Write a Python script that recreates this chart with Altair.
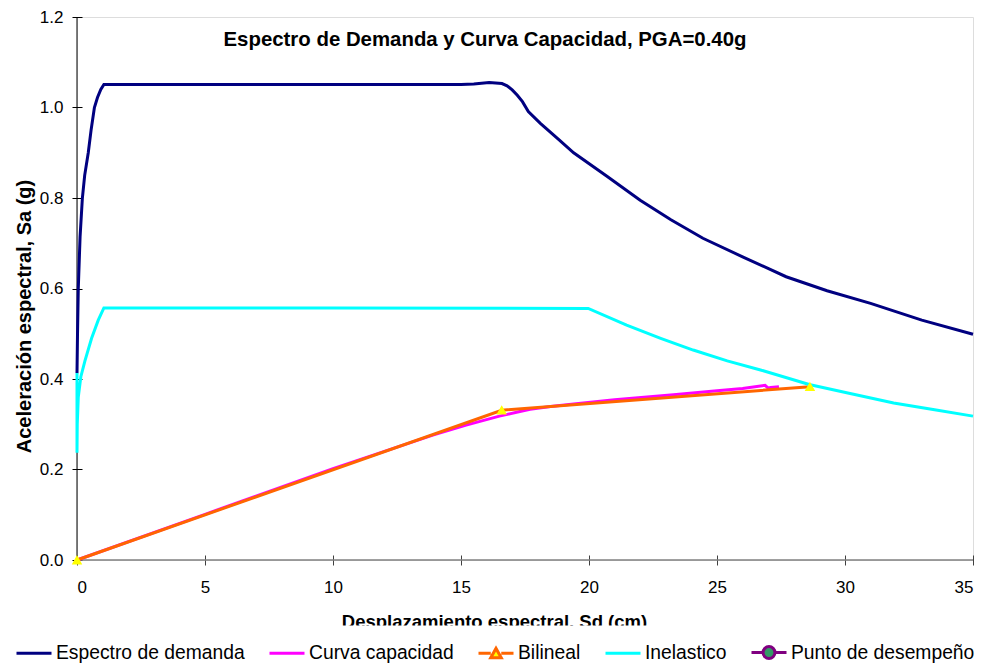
import altair as alt
import pandas as pd

# ---------------- data ----------------
series = ["Espectro de demanda", "Curva capacidad", "Bilineal", "Inelastico", "Punto de desempeño"]
line_colors = ["#000080", "#FF00FF", "#FF6600", "#00FFFF", "#800080"]
line_widths = [3, 3, 1.3, 3, 1.3]
marker_fills = ["transparent", "transparent", "#FFFF00", "transparent", "#339966"]
# legend symbols: line only / line + triangle / line + circle (unit square paths)
LINE = "M-1,0H1"
LINE_TRI = "M-1,0H-0.3M0.3,0H1M-0.3,0.25L0,-0.28L0.3,0.25Z"
LINE_CIRC = "M-1,0H-0.34M0.34,0H1M0.34,0A0.34,0.34,0,1,1,-0.34,0A0.34,0.34,0,1,1,0.34,0Z"
marker_shapes = [LINE, LINE, LINE_TRI, LINE, LINE_CIRC]

demanda_sd = [0.0, 0.02, 0.05, 0.12, 0.21, 0.30, 0.44, 0.55, 0.68, 0.80, 0.93, 1.05,
              5.0, 10.0, 15.0, 15.5, 16.1, 16.6, 16.8, 17.0, 17.2, 17.4, 17.63,
              18.1, 18.8, 19.4, 20.7, 22.0, 23.2, 24.45, 26.0, 27.7, 29.3, 31.0,
              33.0, 35.0]
demanda_sa = [0.413, 0.50, 0.60, 0.714, 0.80, 0.85, 0.90, 0.95, 1.00, 1.022, 1.04, 1.051,
              1.051, 1.051, 1.051, 1.052, 1.055, 1.053, 1.048, 1.039, 1.027, 1.013, 0.991,
              0.965, 0.93, 0.90, 0.848, 0.795, 0.752, 0.711, 0.67, 0.626, 0.595, 0.567,
              0.53, 0.499]

capacidad_sd = [0.0, 5.0, 10.0, 13.9, 15.2, 16.5, 17.3, 17.7, 18.5, 19.4, 21.0,
                23.3, 25.0, 26.0, 26.88, 27.0, 27.1, 27.42]
capacidad_sa = [0.0, 0.101, 0.202, 0.276, 0.298, 0.318, 0.328, 0.333, 0.339, 0.345, 0.354,
                0.365, 0.374, 0.379, 0.386, 0.380, 0.381, 0.383]

bilineal_sd = [0.0, 16.59, 28.63]
bilineal_sa = [0.0, 0.331, 0.383]

inelastico_sd = [0.0, 0.0, 0.01, 0.05, 0.15, 0.31, 0.57, 0.83, 1.05, 10.0, 19.97,
                 21.47, 22.8, 24.07, 25.4, 26.7, 28.6, 30.2, 31.9, 33.5, 35.0]
inelastico_sa = [0.413, 0.237, 0.30, 0.36, 0.405, 0.44, 0.49, 0.53, 0.557, 0.557, 0.556,
                 0.519, 0.49, 0.464, 0.44, 0.42, 0.388, 0.368, 0.347, 0.332, 0.318]

x_ticks = [0, 5, 10, 15, 20, 25, 30, 35]
y_ticks = [0.0, 0.2, 0.4, 0.6, 0.8, 1.0, 1.2]

title_text = "Espectro de Demanda y Curva Capacidad, PGA=0.40g"
x_title = "Desplazamiento espectral, Sd (cm)"
y_title = "Aceleración espectral, Sa (g)"

# ---------------- tables ----------------
rows = []
for name, sds, sas in [(series[0], demanda_sd, demanda_sa),
                       (series[1], capacidad_sd, capacidad_sa),
                       (series[2], bilineal_sd, bilineal_sa),
                       (series[3], inelastico_sd, inelastico_sa)]:
    for i, (a, b) in enumerate(zip(sds, sas)):
        rows.append({"serie": name, "i": i, "sd": a, "sa": b})
df = pd.DataFrame(rows)
df_pts = pd.DataFrame({"serie": [series[2]] * len(bilineal_sd),
                       "sd": bilineal_sd, "sa": bilineal_sa})
df_zero = pd.DataFrame({"z": [0]})

FONT = "Liberation Sans"

x_axis = alt.Axis(values=x_ticks, format="d", domain=False, grid=False, offset=-5,
                  tickSize=10, tickColor="#404040", tickWidth=1,
                  labelFont=FONT, labelFontSize=17, labelColor="black", labelPadding=14,
                  title=x_title, titleFont=FONT, titleFontSize=18.5, titleFontWeight="bold",
                  titleColor="black", titleX=417, titleY=66, titleBaseline="middle")
y_axis = alt.Axis(values=y_ticks, format=".1f", domain=False, grid=False, offset=-5,
                  tickSize=10, tickColor="black", tickWidth=1,
                  labelFont=FONT, labelFontSize=17, labelColor="black", labelPadding=9,
                  title=y_title, titleFont=FONT, titleFontSize=20, titleFontWeight="bold",
                  titleColor="black", titleX=-58, titleY=299, titleBaseline="middle")

x_enc = alt.X("sd:Q", scale=alt.Scale(domain=[0, 35], nice=False, zero=False), axis=x_axis)
y_enc = alt.Y("sa:Q", scale=alt.Scale(domain=[0, 1.2], nice=False), axis=y_axis)

legend = alt.Legend(title=None, orient="none", legendX=-70, legendY=608.5,
                    direction="horizontal", labelFont=FONT, labelFontSize=19.3,
                    labelColor="black", labelOffset=3, columnPadding=18, padding=8,
                    labelLimit=400, symbolSize=1225, symbolOpacity=1,
                    fillColor="white", zindex=1)

color_enc = alt.Color("serie:N", scale=alt.Scale(domain=series, range=line_colors), legend=legend)
width_enc = alt.StrokeWidth("serie:N", scale=alt.Scale(domain=series, range=line_widths), legend=legend)
shape_enc = alt.Shape("serie:N", scale=alt.Scale(domain=series, range=marker_shapes), legend=legend)
fill_enc = alt.Fill("serie:N", scale=alt.Scale(domain=series, range=marker_fills), legend=legend)

# axis lines
x_line = alt.Chart(df_zero).mark_rule(color="#808080", strokeWidth=1.5).encode(y=alt.datum(0))
y_line = alt.Chart(df_zero).mark_rule(color="black", strokeWidth=1).encode(x=alt.datum(0))

lines = (alt.Chart(df)
         .mark_line()
         .encode(x=x_enc, y=y_enc, color=color_enc, strokeWidth=width_enc,
                 detail="serie:N", order=alt.Order("i:Q")))

points = (alt.Chart(df_pts)
          .mark_point(filled=True, size=1225, opacity=1, strokeWidth=0)
          .encode(x=x_enc, y=y_enc, shape=shape_enc, fill=fill_enc))

chart = alt.layer(
    x_line,
    y_line,
    lines,
    points,
).properties(
    width=896, height=543,
    autosize=alt.AutoSizeParams(type="none"),
    padding={"left": 77, "top": 17, "right": 8, "bottom": 106},
    title=alt.TitleParams(title_text, font=FONT, fontSize=20.4, fontWeight="bold",
                          color="black", anchor="middle", dx=-40, dy=42, offset=0),
).configure_view(strokeOpacity=0).configure(background="white")

chart.save("out.html", embed_options={"renderer": "svg", "actions": False})
